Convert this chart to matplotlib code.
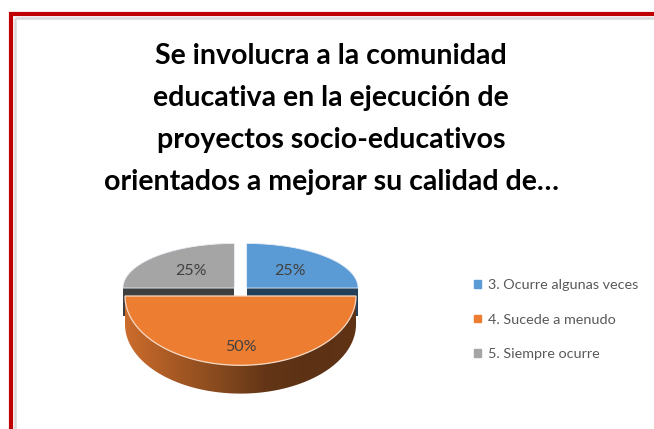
import numpy as np
import matplotlib.pyplot as plt
from matplotlib.patches import Polygon, Patch
from matplotlib.lines import Line2D
from matplotlib.colors import LinearSegmentedColormap

plt.rcParams['font.family'] = ['Lato', 'DejaVu Sans']

title = ('Se involucra a la comunidad\n'
         'educativa en la ejecución de\n'
         'proyectos socio-educativos\n'
         'orientados a mejorar su calidad de…')
categories = ['3. Ocurre algunas veces', '4. Sucede a menudo', '5. Siempre ocurre']
values = [25, 50, 25]

top_colors = ['#5b9bd5', '#ed7d31', '#a5a5a5']
cut_colors = ['#243f58', '#7a3f17', '#3f3f3f']
side_cmap = LinearSegmentedColormap.from_list(
    'side', ['#cc6d2d', '#a95a24', '#874a1e', '#643617', '#5c3114', '#603315'])

# aspecto del pastel 3D
tilt_far, tilt_near, depth = 0.40, 0.60, 0.245
explode, far_scale = 0.075, 0.965
label_r = [0.55, 0.74, 0.55]


def proj(theta, r=1.0):
    x = r * np.sin(theta)
    c = r * np.cos(theta)
    y = np.where(c > 0, tilt_far * c, tilt_near * c)
    return x, y


fig = plt.figure(figsize=(6.54, 4.29), dpi=100)
fig.patch.set_facecolor('white')

# marco rojo
fig.add_artist(Line2D([14.5 / 654, 14.5 / 654], [0, 1 - 17.5 / 429],
                      color='#d9d9d9', lw=1.8, solid_capstyle='butt'))
fig.add_artist(Line2D([14.5 / 654, 1], [1 - 17.5 / 429, 1 - 17.5 / 429],
                      color='#d9d9d9', lw=1.8, solid_capstyle='butt'))
fig.add_artist(Line2D([11 / 654, 11 / 654], [0, 1 - 12 / 429],
                      color='#c00000', lw=3.0, solid_capstyle='butt'))
fig.add_artist(Line2D([9 / 654, 1], [1 - 14 / 429, 1 - 14 / 429],
                      color='#c00000', lw=3.0, solid_capstyle='butt'))

fig.text(331 / 654, 1 - 119 / 429, title, ha='center', va='center',
         fontsize=20.5, fontweight='bold', color='black', linespacing=1.75)

ax = fig.add_axes([101.9 / 654, 1 - 411.5 / 429, 277.2 / 654, 231 / 429])
ax.set_xlim(-1.2, 1.2)
ax.set_ylim(-1.0, 1.0)
ax.axis('off')

total = sum(values)
bounds = np.cumsum([0] + values) / total * 2 * np.pi

for i, v in enumerate(values):
    t0, t1 = bounds[i], bounds[i + 1]
    mid = (t0 + t1) / 2
    far = np.cos(mid) > 0
    r = far_scale if far else 1.0
    dx = explode * np.sin(mid) if far else 0.0
    dy = explode * 1.3 * np.cos(mid) if far else 0.0
    th = np.linspace(t0, t1, 200)
    ax_, ay_ = proj(th, r)
    ax_, ay_ = ax_ + dx, ay_ + dy

    if far:
        # caras de corte
        for t in (t0, t1):
            ex, ey = proj(np.array([t]), r)
            quad = [(dx, dy), (ex[0] + dx, ey[0] + dy),
                    (ex[0] + dx, ey[0] + dy - depth), (dx, dy - depth)]
            ax.add_patch(Polygon(quad, closed=True, fc=cut_colors[i], lw=0, zorder=1))
        top = np.column_stack([np.r_[dx, ax_], np.r_[dy, ay_]])
        ax.add_patch(Polygon(top, closed=True, fc=top_colors[i],
                             ec='#e8eef5', lw=0.6, zorder=2))
    else:
        side = np.column_stack([np.r_[ax_, ax_[::-1]],
                                np.r_[ay_, ay_[::-1] - depth]])
        sp = Polygon(side, closed=True, fc='none', lw=0, zorder=3)
        ax.add_patch(sp)
        im = ax.imshow(np.linspace(0, 1, 256).reshape(1, -1), cmap=side_cmap,
                       extent=[-1, 1, ay_.min() - depth, 0], aspect='auto', zorder=3)
        im.set_clip_path(sp)
        top = np.column_stack([np.r_[dx, ax_], np.r_[dy, ay_]])
        ax.add_patch(Polygon(top, closed=True, fc=top_colors[i],
                             ec='#f6d9c4', lw=0.9, zorder=4))

    lx, ly = proj(np.array([mid]), label_r[i] * r)
    ax.text(lx[0] + dx, ly[0] + dy, f'{v / total:.0%}', ha='center', va='center',
            fontsize=11.5, color='#404040', zorder=5)

handles = [Patch(color=c) for c in top_colors]
fig.legend(handles, categories, loc='upper left',
           bbox_to_anchor=(467 / 654, 1 - 272 / 429), frameon=False,
           borderpad=0, handlelength=0.45, handleheight=0.45, handletextpad=0.5,
           labelspacing=1.55, fontsize=10.4, labelcolor='#595959')

fig.savefig('out.png', dpi=100, facecolor='white')
